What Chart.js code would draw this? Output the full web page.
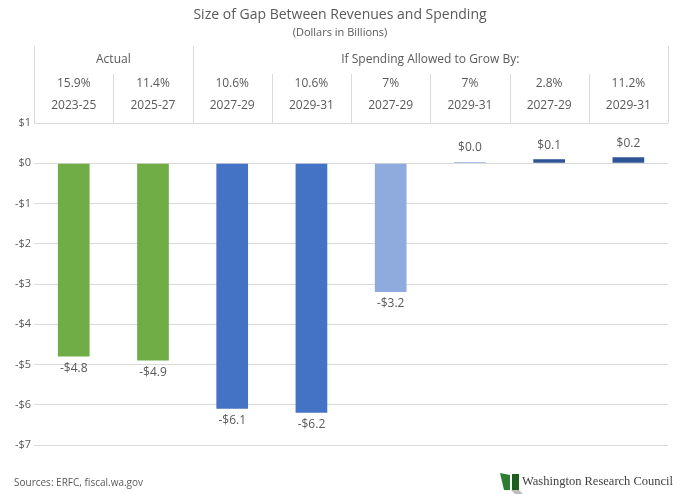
<!DOCTYPE html>
<html>
<head>
<meta charset="utf-8">
<script src="https://cdn.jsdelivr.net/npm/chart.js@4"></script>
<style>
  body { margin: 0; background: #fff; }
  #wrap { width: 680px; height: 494px; }
</style>
</head>
<body>
<div id="wrap"><canvas id="myChart"></canvas></div>
<script>
// data
const periods = ["2023-25", "2025-27", "2027-29", "2029-31", "2027-29", "2029-31", "2027-29", "2029-31"];
const growth = ["15.9%", "11.4%", "10.6%", "10.6%", "7%", "7%", "2.8%", "11.2%"];
const gap = [-4.8, -4.9, -6.1, -6.2, -3.2, 0.03, 0.1, 0.15];
const gapLabels = ["-$4.8", "-$4.9", "-$6.1", "-$6.2", "-$3.2", "$0.0", "$0.1", "$0.2"];
const barColors = ["#70AD47", "#70AD47", "#4472C4", "#4472C4", "#8FAADC", "#8FAADC", "#2F5597", "#2F5597"];
const groups = [
  { text: "Actual", from: 0, to: 1 },
  { text: "If Spending Allowed to Grow By:", from: 2, to: 7 },
];

const FONT = "'Open Sans', 'Noto Sans', sans-serif";

const headerPlugin = {
  id: "header",
  afterDraw(chart) {
    const ctx = chart.ctx;
    const x = chart.scales.x;
    const area = chart.chartArea;
    const step = x.getPixelForValue(1) - x.getPixelForValue(0);
    ctx.save();
    ctx.font = "12px " + FONT;
    ctx.fillStyle = "#595959";
    ctx.textAlign = "center";
    ctx.textBaseline = "middle";
    // group titles
    groups.forEach(function (g) {
      const cx = (x.getPixelForValue(g.from) + x.getPixelForValue(g.to)) / 2;
      ctx.fillText(g.text, cx, 60);
    });
    // column labels
    for (let i = 0; i < periods.length; i++) {
      const cx = x.getPixelForValue(i);
      ctx.fillText(growth[i], cx, 84);
      ctx.fillText(periods[i], cx, 106);
    }
    // separators
    ctx.strokeStyle = "#D9D9D9";
    ctx.lineWidth = 1;
    for (let i = 0; i <= periods.length; i++) {
      const px = Math.round(x.getPixelForValue(i) - step / 2) + 0.5;
      let top = 74;
      if (i === 0 || i === 2 || i === 8) top = 46;
      ctx.beginPath();
      ctx.moveTo(px, top);
      ctx.lineTo(px, area.top);
      ctx.stroke();
    }
    // value labels
    const y = chart.scales.y;
    for (let i = 0; i < gap.length; i++) {
      const cx = x.getPixelForValue(i);
      const py = y.getPixelForValue(gap[i]);
      if (gap[i] < 0) ctx.fillText(gapLabels[i], cx, py + 12);
      else ctx.fillText(gapLabels[i], cx, py - 14);
    }
    // footer
    ctx.textAlign = "left";
    ctx.font = "10px " + FONT;
    ctx.fillText("Sources: ERFC, fiscal.wa.gov", 14, 483);
    ctx.font = "12.5px 'Liberation Serif', serif";
    ctx.fillStyle = "#404040";
    ctx.fillText("Washington Research Council", 522, 482);
    // logo
    ctx.fillStyle = "#2E7D32";
    ctx.beginPath();
    ctx.moveTo(500, 473); ctx.lineTo(510, 475); ctx.lineTo(510, 490); ctx.lineTo(504, 490);
    ctx.closePath(); ctx.fill();
    ctx.fillStyle = "#1B5E20";
    ctx.fillRect(512, 474, 7, 16);
    ctx.fillStyle = "#BDBDBD";
    ctx.beginPath();
    ctx.moveTo(511, 490); ctx.lineTo(519, 490); ctx.lineTo(524, 495); ctx.lineTo(516, 495);
    ctx.closePath(); ctx.fill();
    ctx.restore();
  },
};

new Chart("myChart", {
  type: "bar",
  data: {
    labels: periods,
    datasets: [
      {
        data: gap,
        backgroundColor: barColors,
        barPercentage: 0.4,
        categoryPercentage: 1.0,
      },
    ],
  },
  options: {
    responsive: true,
    maintainAspectRatio: false,
    animation: false,
    layout: { padding: { top: 0, right: 12, bottom: 49, left: 12 } },
    plugins: {
      legend: { display: false },
      tooltip: { enabled: false },
      title: {
        display: true,
        text: "Size of Gap Between Revenues and Spending",
        color: "#595959",
        font: { family: FONT, size: 14, weight: "normal" },
        padding: { top: 7, bottom: 2 },
      },
      subtitle: {
        display: true,
        text: "(Dollars in Billions)",
        color: "#595959",
        font: { family: FONT, size: 11 },
        padding: { bottom: 84 },
      },
    },
    scales: {
      x: {
        display: false,
      },
      y: {
        min: -7,
        max: 1,
        ticks: {
          stepSize: 1,
          color: "#595959",
          font: { family: FONT, size: 11 },
          callback: function (v) { return v < 0 ? "-$" + Math.abs(v) : "$" + v; },
        },
        grid: { color: "#D9D9D9", drawTicks: false },
        border: { display: false },
      },
    },
  },
  plugins: [headerPlugin],
});
</script>
</body>
</html>
